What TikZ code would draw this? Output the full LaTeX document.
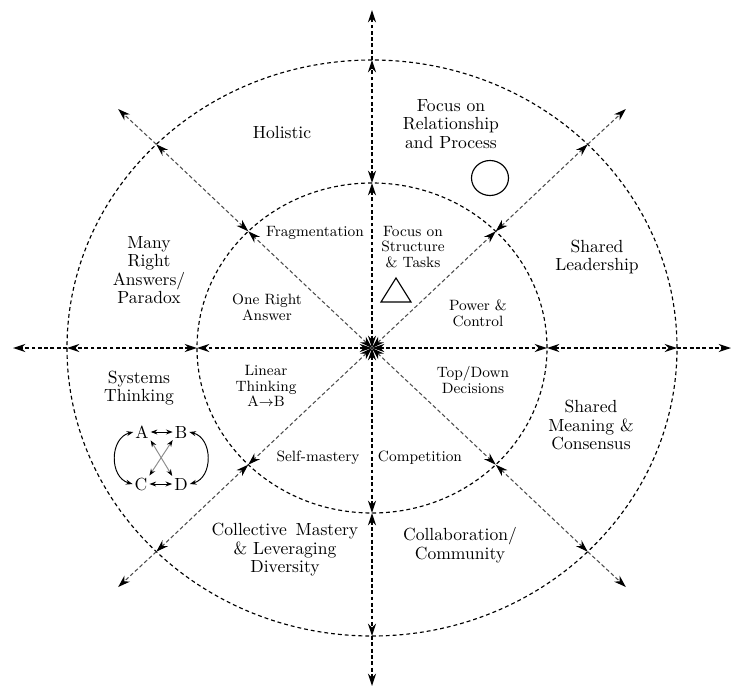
\documentclass[tikz,border=0pt]{standalone}
\usepackage{amsmath,amssymb}
\usepackage{tikz}
\usetikzlibrary{arrows.meta}

\begin{document}
\begin{tikzpicture}[
  x=0.02cm, y=0.02cm,
  >={Stealth[length=7pt, width=4.6pt, color=black]},
  ray/.style={line width=0.75pt, dash pattern=on 2.2pt off 1.4pt},
  diag/.style={ray, line width=0.6pt, draw=black!70},
  ring/.style={line width=0.65pt, dash pattern=on 2.2pt off 1.7pt},
  pairarrow/.style={{Stealth[length=3.8pt, width=2.8pt, color=black]}-{Stealth[length=3.8pt, width=2.8pt, color=black]}, line width=0.55pt},
  outlbl/.style={font=\fontsize{10}{10.5}\selectfont, align=center, inner sep=1pt},
  inlbl/.style={font=\fontsize{8.5}{9}\selectfont, align=center, inner sep=1pt},
  letter/.style={font=\fontsize{10}{10}\selectfont, inner sep=1pt}
]
  \useasboundingbox (-372,-342) rectangle (377,348);
  \coordinate (c) at (0,0);

  % the two rings
  \draw[ring] (c) ellipse [x radius=175, y radius=165];
  \draw[ring] (c) ellipse [x radius=305, y radius=288];

  % axes: centre -> inner ring -> outer ring -> out
  \foreach \a in {0,90,180,270} {
    \coordinate (in\a) at (\a:175 and 165);
    \coordinate (out\a) at (\a:305 and 288);
    \coordinate (end\a) at (\a:359 and 338);
    \draw[ray, <->] (c) -- (in\a);
    \draw[ray, <->] (in\a) -- (out\a);
    \draw[ray, ->] (out\a) -- (end\a);
  }
  % diagonals, same pattern
  \foreach \a in {45,135,225,315} {
    \coordinate (in\a) at (\a:175 and 165);
    \coordinate (out\a) at (\a:305 and 288);
    \coordinate (end\a) at (\a:359 and 338);
    \draw[diag, <->] (c) -- (in\a);
    \draw[diag, <->] (in\a) -- (out\a);
    \draw[diag, ->] (out\a) -- (end\a);
  }

  % outer ring labels
  \node[outlbl] (holistic) at (-90,216) {Holistic};
  \node[outlbl] (relproc) at (79,224) {Focus on\\Relationship\\and Process};
  \node[outlbl] (paradox) at (-223,78) {Many\\Right\\Answers/\\Paradox};
  \node[outlbl] (leader) at (225,91) {Shared\\Leadership};
  \node[outlbl] (systems) at (-233,-40) {Systems\\Thinking};
  \node[outlbl] (consensus) at (219,-77) {Shared\\Meaning \&\\Consensus};
  \node[outlbl] (mastery) at (-87,-202) {Collective\enspace Mastery\\\& Leveraging\\Diversity};
  \node[outlbl] (collab) at (88,-197) {Collaboration/\\Community};

  % inner ring labels
  \node[inlbl] (frag) at (-57,115) {Fragmentation};
  \node[inlbl] (struct) at (41,101) {Focus on\\Structure\\\& Tasks};
  \node[inlbl] (oneright) at (-105,41) {One Right\\Answer};
  \node[inlbl] (power) at (106,35) {Power \&\\Control};
  \node[inlbl] (linear) at (-106,-38) {Linear\\Thinking\\A\,$\!\to\!$\,B};
  \node[inlbl] (topdown) at (101,-32) {Top/Down\\Decisions};
  \node[inlbl] (selfm) at (-54,-110) {Self-mastery};
  \node[inlbl] (compet) at (48,-110) {Competition};

  % symbols
  \draw[line width=0.65pt] (118,170) ellipse [x radius=18.5, y radius=17.5];
  \draw[line width=0.65pt] (9,46) -- (39,46) -- (24,70) -- cycle;

  % systems thinking sketch
  \node[letter] (A) at (-230,-84) {A};
  \node[letter] (B) at (-191,-84) {B};
  \node[letter] (C) at (-231,-136) {C};
  \node[letter] (D) at (-191,-136) {D};
  \draw[pairarrow] (A) -- (B);
  \draw[pairarrow] (C) -- (D);
  \draw[pairarrow] (A.west) to[bend right=75, looseness=1.2] (C.west);
  \draw[pairarrow] (B.east) to[bend left=75, looseness=1.2] (D.east);
  \draw[pairarrow, black!45] (A.south east) -- (D.north west);
  \draw[pairarrow, black!45] (B.south west) -- (C.north east);
\end{tikzpicture}
\end{document}
